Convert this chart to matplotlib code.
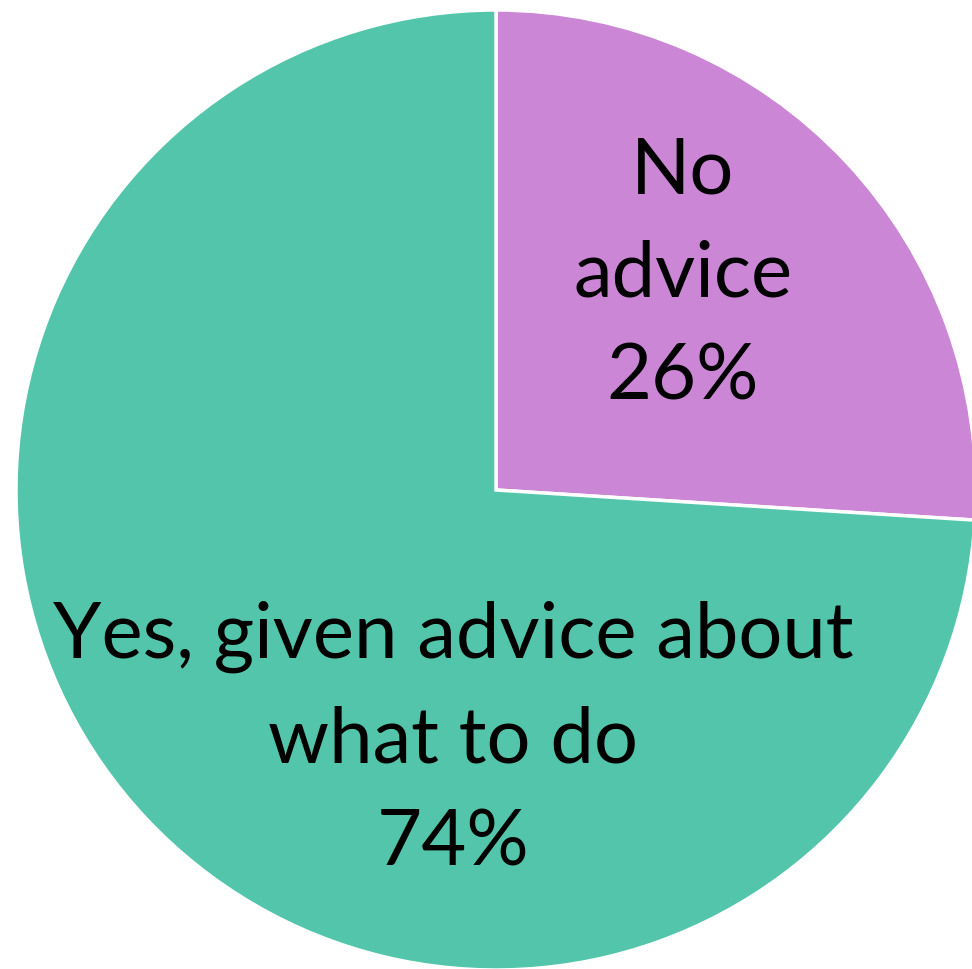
import matplotlib
matplotlib.use("Agg")
import matplotlib.pyplot as plt

categories = ["No\nadvice", "Yes, given advice about\nwhat to do"]
values = [26, 74]
colors = ["#CB86D6", "#52C5AA"]

W, H = 972, 969
cx, cy, R = 496, 490, 480

fig = plt.figure(figsize=(W / 100, H / 100), dpi=100)
ax = fig.add_axes([0, 0, 1, 1])

wedges, _ = ax.pie(values, colors=colors, startangle=90, counterclock=False,
                   radius=1.0, center=(0, 0),
                   wedgeprops=dict(edgecolor="white", linewidth=2.5))
ax.set_aspect("auto")
ax.set_xlim(-cx / R, (W - cx) / R)
ax.set_ylim(-(H - cy) / R, cy / R)
ax.axis("off")

def px(x, y):
    return ((x - cx) / R, (cy - y) / R)

label_pos = [px(683, 275), px(453, 740)]
for cat, v, (x, y) in zip(categories, values, label_pos):
    ax.text(x, y, f"{cat}\n{v}%", ha="center", va="center", fontsize=56,
            family=["Lato", "DejaVu Sans"], linespacing=1.56, color="black")

fig.savefig("out.png", dpi=100)
